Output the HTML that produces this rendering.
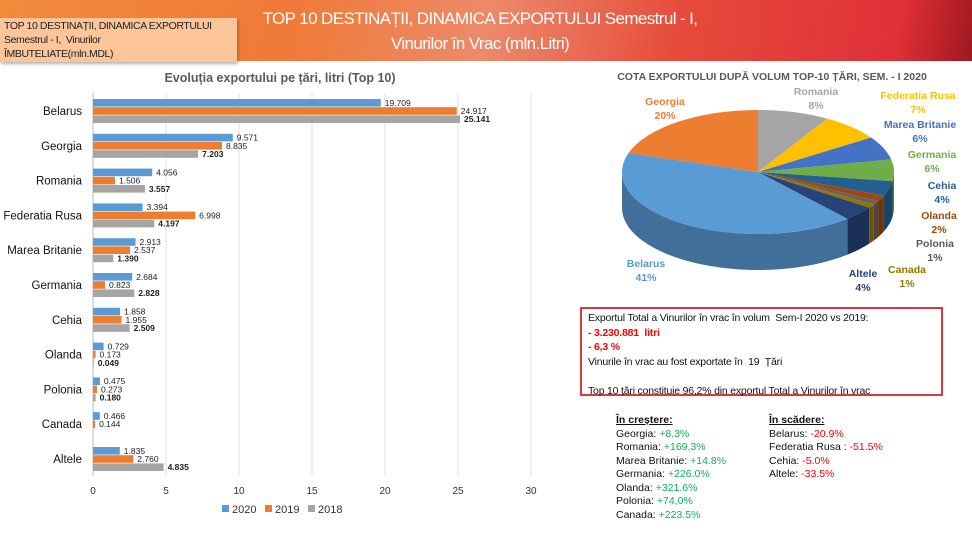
<!DOCTYPE html>
<html><head><meta charset="utf-8"><style>
body{margin:0;width:972px;height:545px;overflow:hidden;background:#fff;font-family:"Liberation Sans",Arial,sans-serif;position:relative}
.hdr{position:absolute;left:0;top:0;width:972px;height:61px;background:linear-gradient(100deg,#f38a3c 0%,#f07a38 30%,#ec8a6a 50%,#e64a3a 70%,#e03038 92%,#a01820 100%)}
.tbox{position:absolute;left:0;top:18px;width:237px;height:44px;background:#fcc59a;font-size:10.5px;line-height:14px;color:#222;padding:1px 4px;box-sizing:border-box;box-shadow:1px 2px 3px rgba(0,0,0,.3);letter-spacing:-0.4px;white-space:nowrap}
.title{position:absolute;left:240px;top:6px;width:480px;text-align:center;color:#fff;font-size:17px;line-height:25px;letter-spacing:-0.6px;white-space:nowrap}
.info{position:absolute;left:580px;top:307px;width:363px;height:89px;border:2px solid #d9393b;font-size:10.5px;line-height:14.5px;padding:2px 6px;box-sizing:border-box;color:#111;letter-spacing:-0.2px;white-space:nowrap}
.red{color:#f00;font-weight:bold}
.col{position:absolute;top:414px;font-size:10.5px;line-height:13.5px;color:#111}
.g{color:#10b050}.r{color:#f00}
</style></head><body>
<div class="hdr"></div>
<div class="tbox">TOP 10 DESTINAȚII, DINAMICA EXPORTULUI<br>Semestrul - I,&nbsp; Vinurilor<br>ÎMBUTELIATE(mln.MDL)</div>
<div class="title">TOP 10 DESTINAȚII, DINAMICA EXPORTULUI Semestrul - I,<br>Vinurilor în Vrac (mln.Litri)</div>
<svg id="s" width="972" height="545" style="position:absolute;left:0;top:0"></svg>
<div class="info">Exportul Total a Vinurilor în vrac în volum&nbsp; Sem-I 2020 vs 2019:<br><span class="red">- 3.230.881&nbsp; litri</span><br><span class="red">- 6,3 %</span><br>Vinurile în vrac au fost exportate în&nbsp; 19&nbsp; Țări<br><br>Top 10 țări constituie 96,2% din exportul Total a Vinurilor în vrac</div>
<div class="col" style="left:616px"><b><u>În creștere:</u></b><br>Georgia: <span class="g">+8.3%</span><br>Romania: <span class="g">+169,3%</span><br>Marea Britanie: <span class="g">+14.8%</span><br>Germania: <span class="g">+226.0%</span><br>Olanda: <span class="g">+321.6%</span><br>Polonia: <span class="g">+74,0%</span><br>Canada: <span class="g">+223.5%</span></div>
<div class="col" style="left:769px"><b><u>În scădere:</u></b><br>Belarus: <span class="r">-20.9%</span><br>Federatia Rusa : <span class="r">-51.5%</span><br>Cehia: <span class="r">-5.0%</span><br>Altele: <span class="r">-33.5%</span></div>
<script>
const s=document.getElementById('s');let h='';
const T=(x,y,t,a)=>h+=`<text x="${x}" y="${y}" ${a||''}>${t}</text>`;
T(280,82,'Evoluția exportului pe țări, litri (Top 10)','text-anchor="middle" font-size="12.5" font-weight="bold" fill="#595959"');
const names=['Belarus','Georgia','Romania','Federatia Rusa','Marea Britanie','Germania','Cehia','Olanda','Polonia','Canada','Altele'];
const d=[[19.709,24.917,25.141],[9.571,8.835,7.203],[4.056,1.506,3.557],[3.394,6.998,4.197],[2.913,2.537,1.390],[2.684,0.823,2.828],[1.858,1.955,2.509],[0.729,0.173,0.049],[0.475,0.273,0.180],[0.466,0.144,0],[1.835,2.760,4.835]];
const cols=['#5b9bd5','#ed7d31','#a5a5a5'];
const x0=93,k=14.6;
for(let i=0;i<=6;i++){let x=x0+i*5*k;h+=`<line x1="${x}" y1="93" x2="${x}" y2="476" stroke="#e0e0e0"/>`;T(x,494,i*5,'text-anchor="middle" font-size="10" fill="#333"');}
h+=`<line x1="${x0}" y1="93" x2="${x0}" y2="476" stroke="#bbb"/>`;
d.forEach((r,i)=>{const c=111+i*34.8;T(82,c+4,names[i],'text-anchor="end" font-size="11.5" fill="#111"');
r.forEach((v,j)=>{if(i==9&&j==2)return;const y=c-12+j*8.2;h+=`<rect x="${x0}" y="${y}" width="${v*k}" height="7.6" fill="${cols[j]}"/>`;
T(x0+v*k+4,y+6.8,v.toFixed(3),`font-size="8.5" fill="#222" ${j==2?'font-weight="bold"':''}`);});});
[['2020',222],['2019',265],['2018',308]].forEach((l,j)=>{h+=`<rect x="${l[1]}" y="505" width="7" height="7" fill="${cols[j]}"/>`;T(l[1]+10,513,l[0],'font-size="11" fill="#333"');});
T(772,80,'COTA EXPORTULUI DUPĂ VOLUM TOP-10 ȚĂRI, SEM. - I 2020','text-anchor="middle" font-size="10.5" font-weight="bold" fill="#595959"');
const pv=[4.056,3.394,2.913,2.684,1.858,0.729,0.475,0.466,1.835,19.709,9.571];
const pc=['#a5a5a5','#ffc000','#4472c4','#70ad47','#255e91','#9e480e','#636363','#997300','#264478','#5b9bd5','#ed7d31'];
const tot=pv.reduce((a,b)=>a+b);const cx=758,cy=172,rx=136,ry=62,dp=36;
const P=(t,dy)=>[cx+rx*Math.sin(t),cy-ry*Math.cos(t)+(dy||0)];
const dk=(c,f)=>{let n=parseInt(c.slice(1),16);return `rgb(${(n>>16)*f|0},${(n>>8&255)*f|0},${(n&255)*f|0})`;};
let a=0,sl=[];pv.forEach((v,i)=>{let b=a+v/tot*2*Math.PI;sl.push([a,b,pc[i]]);a=b;});
sl.forEach(([a,b,c])=>{let s1=Math.max(a,Math.PI/2),e1=Math.min(b,3*Math.PI/2);if(e1<=s1)return;
let p1=P(s1),p2=P(e1),q2=P(e1,dp),q1=P(s1,dp);let lg=(e1-s1)>Math.PI?1:0;
h+=`<path d="M${p1} A${rx},${ry} 0 ${lg} 1 ${p2} L${q2} A${rx},${ry} 0 ${lg} 0 ${q1}Z" fill="${dk(c,0.72)}"/>`;});
sl.forEach(([a,b,c])=>{let p1=P(a),p2=P(b),lg=(b-a)>Math.PI?1:0;h+=`<path d="M${cx},${cy} L${p1} A${rx},${ry} 0 ${lg} 1 ${p2}Z" fill="${c}"/>`;});
const L=[['Georgia','20%',665,105,'#ed7d31'],['Romania','8%',816,95,'#a5a5a5'],['Federatia Rusa','7%',918,99,'#ffc000'],['Marea Britanie','6%',920,128,'#4472c4'],['Germania','6%',932,158,'#70ad47'],['Cehia','4%',942,189,'#255e91'],['Olanda','2%',939,219,'#9e480e'],['Polonia','1%',935,247,'#595959'],['Canada','1%',907,273,'#997300'],['Altele','4%',863,277,'#264478'],['Belarus','41%',646,267,'#5b9bd5']];
L.forEach(l=>{T(l[2],l[3],l[0],`text-anchor="middle" font-size="10.5" font-weight="bold" fill="${l[4]}"`);T(l[2],l[3]+14,l[1],`text-anchor="middle" font-size="10.5" font-weight="bold" fill="${l[4]}"`);});
s.innerHTML=h;
</script>
</body></html>
